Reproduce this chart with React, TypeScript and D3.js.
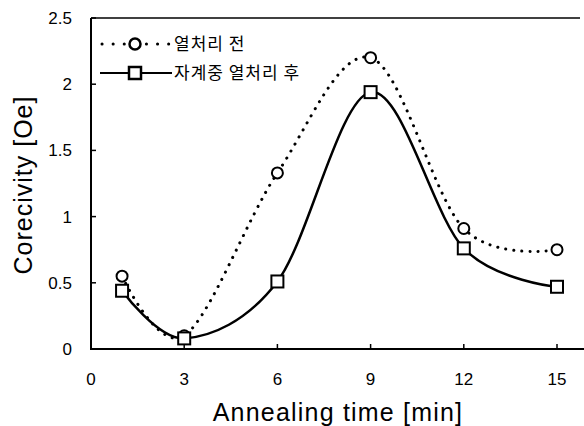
import React from "react";
import * as d3 from "d3";

const times = [1, 3, 6, 9, 12, 15];
const beforeValues = [0.55, 0.1, 1.33, 2.2, 0.91, 0.75];
const afterValues = [0.44, 0.08, 0.51, 1.94, 0.76, 0.47];
const xTicks = [0, 3, 6, 9, 12, 15];
const yTicks = [0, 0.5, 1, 1.5, 2, 2.5];
const legendLabels = ["열처리 전", "자계중 열처리 후"];

const W = 584;
const H = 426;
const font = "'Liberation Sans', Arial, sans-serif";
const krFont = "'Noto Sans CJK KR', sans-serif";

export default function App() {
  const x = d3.scaleLinear().domain([0, 15]).range([91, 557]);
  const y = d3.scaleLinear().domain([0, 2.5]).range([349, 18]);

  const line = d3
    .line<number>()
    .x((_, i) => x(times[i]))
    .y((d) => y(d))
    .curve(d3.curveCardinal.tension(0));

  return (
    <svg
      width={W}
      height={H}
      style={{ position: "absolute", left: 0, top: 0, background: "#fff" }}
      fontFamily={font}
    >
      {/* frame: left, bottom, top */}
      <line x1={x(0)} x2={x(0)} y1={y(2.5)} y2={y(0)} stroke="#000" strokeWidth={2} />
      <line x1={x(0) - 1} x2={W} y1={y(0)} y2={y(0)} stroke="#000" strokeWidth={2} />
      <line x1={x(0)} x2={580} y1={y(2.5)} y2={y(2.5)} stroke="#000" strokeWidth={1.5} />

      {yTicks.map((t) => (
        <g key={t}>
          <line x1={x(0)} x2={x(0) + 5} y1={y(t)} y2={y(t)} stroke="#000" strokeWidth={1.5} />
          <text x={72} y={y(t)} dy="0.35em" textAnchor="end" fontSize={17}>
            {t}
          </text>
        </g>
      ))}
      {xTicks.map((t) => (
        <g key={t}>
          <line x1={x(t)} x2={x(t)} y1={y(0)} y2={y(0) - 5} stroke="#000" strokeWidth={1.5} />
          <text x={x(t)} y={385} textAnchor="middle" fontSize={17}>
            {t}
          </text>
        </g>
      ))}

      <text x={338} y={421} textAnchor="middle" fontSize={25} letterSpacing={1.2}>
        Annealing time [min]
      </text>
      <text
        transform={`translate(32,185) rotate(-90)`}
        textAnchor="middle"
        fontSize={25}
        letterSpacing={1}
      >
        Corecivity [Oe]
      </text>

      <path
        d={line(beforeValues) || ""}
        fill="none"
        stroke="#000"
        strokeWidth={3}
        strokeDasharray="0.1,8"
        strokeLinecap="round"
      />
      <path d={line(afterValues) || ""} fill="none" stroke="#000" strokeWidth={2.5} />

      {beforeValues.map((v, i) => (
        <circle key={"c" + i} cx={x(times[i])} cy={y(v)} r={5.5} fill="#fff" stroke="#000" strokeWidth={2} />
      ))}
      {afterValues.map((v, i) => (
        <rect
          key={"s" + i}
          x={x(times[i]) - 6}
          y={y(v) - 6}
          width={12}
          height={12}
          fill="#fff"
          stroke="#000"
          strokeWidth={2}
        />
      ))}

      {/* legend */}
      <line x1={102} x2={171} y1={44} y2={44} stroke="#000" strokeWidth={3} strokeDasharray="0.1,11" strokeLinecap="round" />
      <circle cx={135} cy={44} r={5.5} fill="#fff" stroke="#000" strokeWidth={2.5} />
      <text x={174} y={44} dy="0.38em" fontSize={17} fontFamily={krFont} letterSpacing={1}>
        {legendLabels[0]}
      </text>
      <line x1={100} x2={172} y1={73} y2={73} stroke="#000" strokeWidth={2} />
      <rect x={129} y={67} width={12} height={12} fill="#fff" stroke="#000" strokeWidth={2.5} />
      <text x={174} y={73} dy="0.38em" fontSize={17} fontFamily={krFont} letterSpacing={1}>
        {legendLabels[1]}
      </text>
    </svg>
  );
}
